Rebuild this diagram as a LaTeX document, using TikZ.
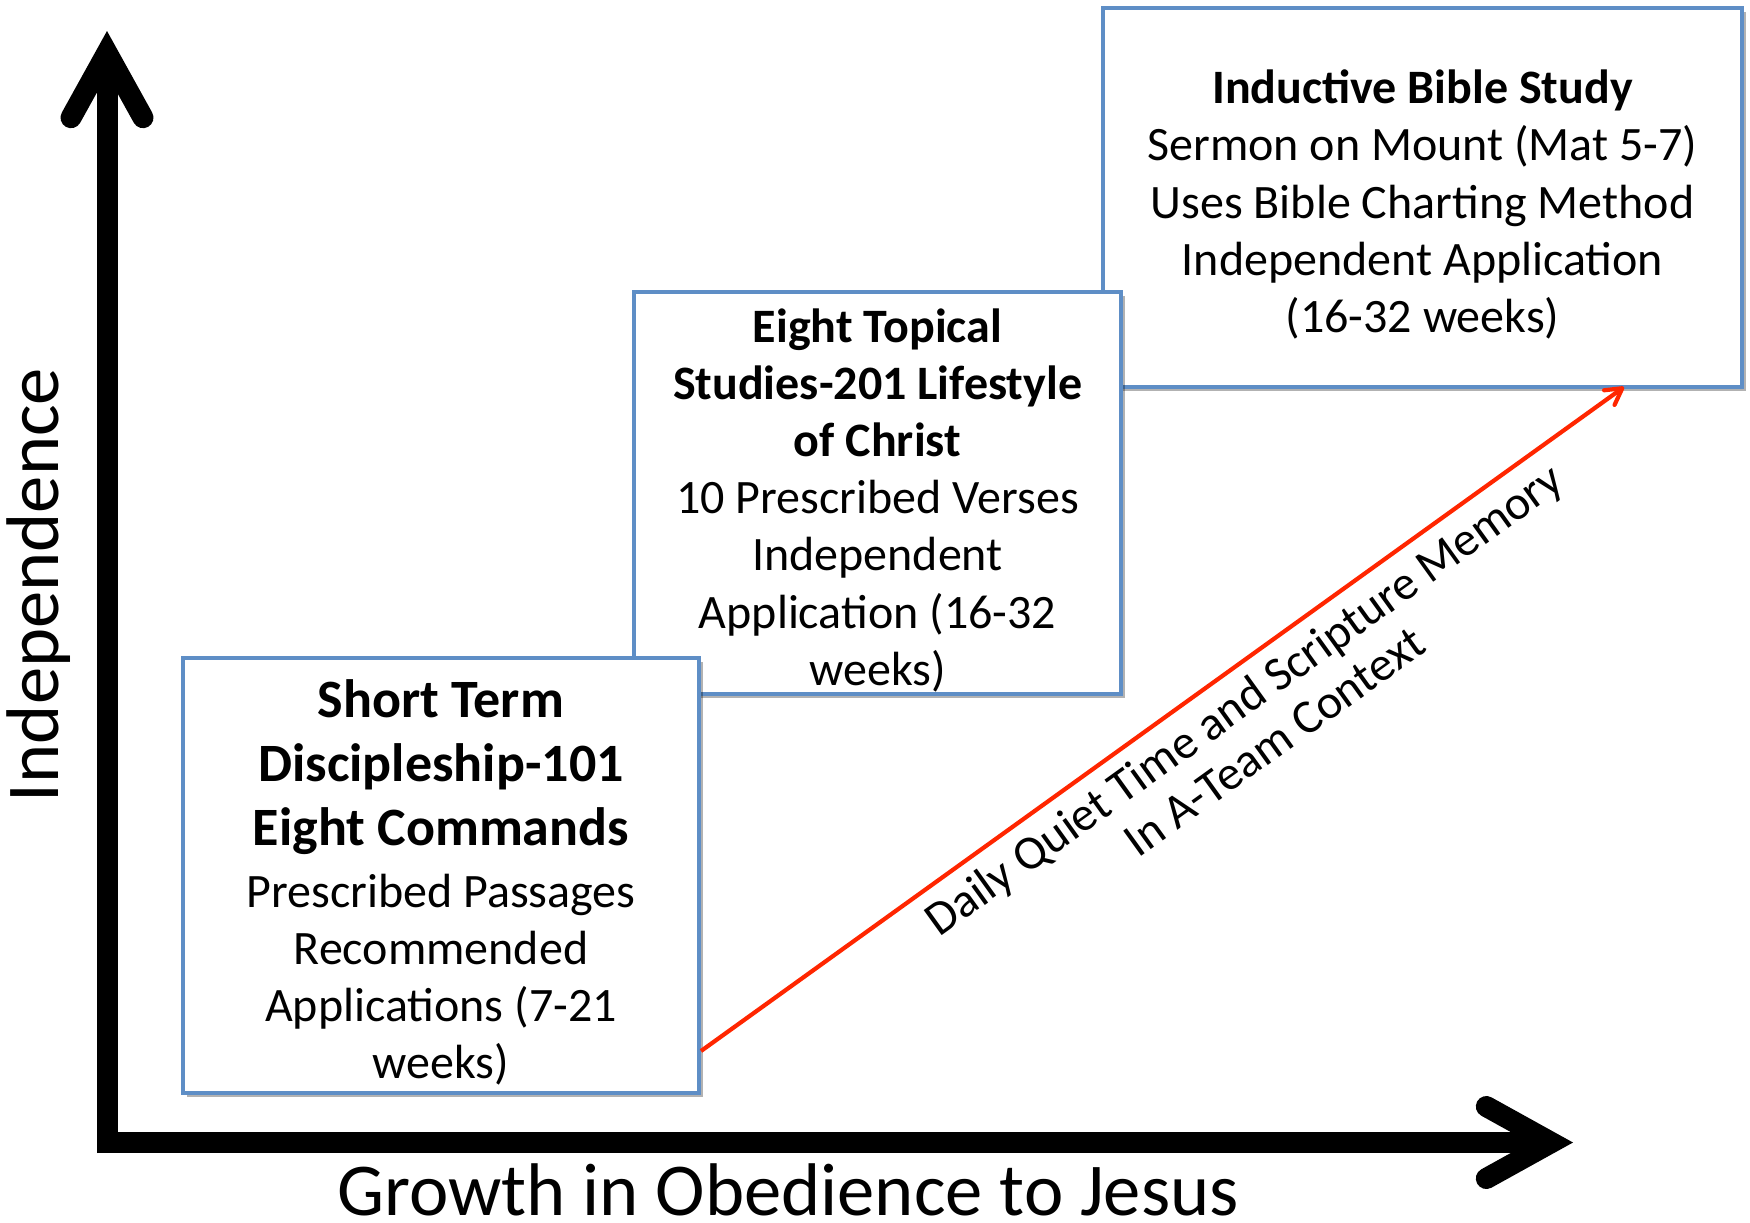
\documentclass[tikz,border=0pt]{standalone}
\usepackage{fontspec}
\setmainfont{Carlito}
\usetikzlibrary{arrows.meta,shadows}
\definecolor{boxblue}{RGB}{94,142,198}
\definecolor{arrred}{RGB}{255,38,0}
\newcommand{\bxfont}{\fontsize{24}{28.6}\selectfont}
\newcommand{\ttlfont}{\fontsize{27}{32}\selectfont\bfseries}
\newcommand{\topstrut}[1]{\rule{0pt}{#1}}
\begin{document}
\begin{tikzpicture}[x=0.5pt,y=-0.5pt,
  stagebox/.style={draw=boxblue, line width=2.3pt, fill=white, align=center,
    inner sep=0pt, font=\bxfont,
    drop shadow={shadow xshift=1.8pt, shadow yshift=-1.8pt, opacity=0.3, fill=black}},
  axisline/.style={line width=10.5pt, line cap=butt,
    -{Straight Barb[length=32.5pt,width=36pt,line cap=round,line join=miter]}},
  axislabel/.style={font=\fontsize{37.3}{44}\selectfont, inner sep=0pt, anchor=base},
  growline/.style={draw=arrred, line width=2.1pt,
    -{Straight Barb[length=8pt,width=9pt,line cap=round,line join=round]}},
]
\useasboundingbox (0,0) rectangle (1750,1222);

% boxes (back to front)
\node[stagebox, minimum width=319.5pt, minimum height=189.5pt] (ibs) at (1422.5,197.5)
  {\topstrut{24pt}\textbf{Inductive Bible Study}\\Sermon on Mount (Mat 5-7)\\Uses Bible Charting Method\\Independent Application\\(16-32 weeks)};
\node[stagebox, minimum width=243.5pt, minimum height=201pt] (ets) at (877.5,493)
  {\topstrut{24pt}\textbf{Eight Topical}\\\textbf{Studies-201 Lifestyle}\\\textbf{of Christ}\\10 Prescribed Verses\\Independent\\Application (16-32\\weeks)};
\node[stagebox, minimum width=258pt, minimum height=217.5pt] (std) at (441,875.5)
  {{\ttlfont\topstrut{26pt}Short Term}\\[3.5pt]{\ttlfont Discipleship-101}\\[3.5pt]{\ttlfont Eight Commands}\\[2pt]Prescribed Passages\\Recommended\\Applications (7-21\\weeks)};

% axes
\coordinate (origin) at (107,1153);
\coordinate (ytip) at (107,31);
\coordinate (xorig) at (97,1142.5);
\coordinate (xtip) at (1573,1142.5);
\draw[axisline] (origin) -- (ytip);
\draw[axisline] (xorig) -- (xtip);

\node[axislabel, rotate=90] (ylab) at (58,585) {Independence};
\node[axislabel] (xlab) at (788,1215) {Growth in Obedience to Jesus};

% growth arrow
\coordinate (gs) at (701,1051);
\coordinate (ge) at (1624,387);
\draw[growline] (gs) -- node[pos=0.568, sloped, below=6pt, align=center, font=\fontsize{24}{26}\selectfont, inner sep=0pt] (glab)
  {Daily Quiet Time and Scripture Memory\\In A-Team Context} (ge);
\end{tikzpicture}
\end{document}
